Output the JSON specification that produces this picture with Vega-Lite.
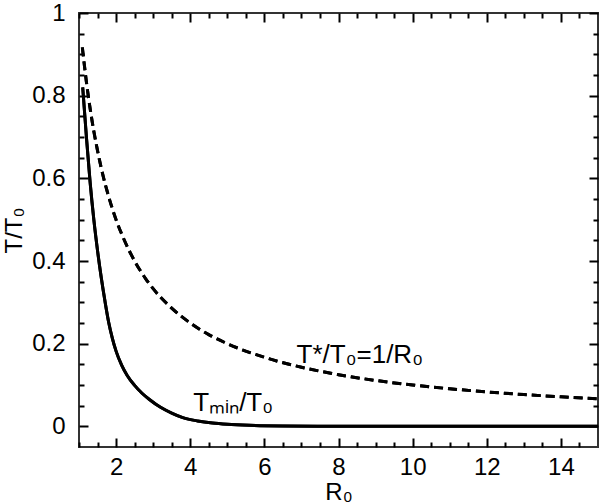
{
  "$schema": "https://vega.github.io/schema/vega-lite/v6.json",
  "width": 519,
  "height": 434,
  "autosize": {"type": "none"},
  "padding": {"left": 79, "top": 13, "right": 2, "bottom": 57},
  "background": "white",
  "config": {
    "view": {"stroke": "#333333", "strokeWidth": 2},
    "font": "Liberation Sans",
    "axis": {
      "domain": false,
      "grid": false,
      "labelFont": "Liberation Sans",
      "labelFontSize": 24,
      "labelColor": "black",
      "titleFont": "Liberation Sans",
      "titleFontSize": 24,
      "titleFontWeight": "normal",
      "titleColor": "black",
      "labelFlush": false,
      "labelOverlap": false
    }
  },
  "datasets": {
    "tmin": [
      {"R0": 1.1, "v": 0.82},
      {"R0": 1.2, "v": 0.7},
      {"R0": 1.3, "v": 0.59},
      {"R0": 1.4, "v": 0.5},
      {"R0": 1.5, "v": 0.425},
      {"R0": 1.6, "v": 0.36},
      {"R0": 1.7, "v": 0.303},
      {"R0": 1.8, "v": 0.252},
      {"R0": 1.9, "v": 0.213},
      {"R0": 2.0, "v": 0.182},
      {"R0": 2.15, "v": 0.148},
      {"R0": 2.3, "v": 0.123},
      {"R0": 2.5, "v": 0.099},
      {"R0": 2.7, "v": 0.08},
      {"R0": 2.9, "v": 0.065},
      {"R0": 3.2, "v": 0.046},
      {"R0": 3.5, "v": 0.032},
      {"R0": 3.8, "v": 0.021},
      {"R0": 4.2, "v": 0.013},
      {"R0": 4.6, "v": 0.008},
      {"R0": 5.0, "v": 0.005},
      {"R0": 5.6, "v": 0.0025},
      {"R0": 6.5, "v": 0.001},
      {"R0": 8, "v": 0.0003},
      {"R0": 10, "v": 0.0001},
      {"R0": 12, "v": 0},
      {"R0": 15, "v": 0}
    ],
    "tstar": [
      {"R0": 1.09, "v": 0.917},
      {"R0": 1.15, "v": 0.87},
      {"R0": 1.2, "v": 0.833},
      {"R0": 1.3, "v": 0.769},
      {"R0": 1.4, "v": 0.714},
      {"R0": 1.5, "v": 0.667},
      {"R0": 1.6, "v": 0.625},
      {"R0": 1.8, "v": 0.556},
      {"R0": 2.0, "v": 0.5},
      {"R0": 2.2, "v": 0.455},
      {"R0": 2.5, "v": 0.4},
      {"R0": 2.8, "v": 0.357},
      {"R0": 3.0, "v": 0.333},
      {"R0": 3.5, "v": 0.286},
      {"R0": 4, "v": 0.25},
      {"R0": 4.5, "v": 0.222},
      {"R0": 5, "v": 0.2},
      {"R0": 6, "v": 0.167},
      {"R0": 7, "v": 0.143},
      {"R0": 8, "v": 0.125},
      {"R0": 9, "v": 0.111},
      {"R0": 10, "v": 0.1},
      {"R0": 11, "v": 0.0909},
      {"R0": 12, "v": 0.0833},
      {"R0": 13, "v": 0.0769},
      {"R0": 14, "v": 0.0714},
      {"R0": 15, "v": 0.0667}
    ],
    "labels": [
      {"R0": 6.87, "v": 0.154, "text": "T*/T₀=1/R₀"},
      {"R0": 4.08, "v": 0.038, "text": "Tₘᵢₙ/T₀"}
    ]
  },
  "resolve": {"axis": {"x": "independent", "y": "independent"}},
  "layer": [
    {
      "data": {"name": "tmin"},
      "mark": {"type": "line", "color": "black", "strokeWidth": 3, "interpolate": "monotone", "clip": true},
      "encoding": {
        "x": {
          "field": "R0", "type": "quantitative",
          "scale": {"domain": [1, 15], "nice": false, "zero": false},
          "axis": {
            "orient": "bottom",
            "title": "R₀",
            "titleY": 52,
            "titleBaseline": "alphabetic",
            "values": [2, 4, 6, 8, 10, 12, 14],
            "format": "d",
            "ticks": false,
            "labelPadding": 8
          }
        },
        "y": {
          "field": "v", "type": "quantitative",
          "scale": {"domain": [-0.05, 1], "nice": false, "zero": false},
          "axis": {
            "orient": "left",
            "title": "T/T₀",
            "titlePadding": 5,
            "values": [0, 0.2, 0.4, 0.6, 0.8, 1],
            "format": "~g",
            "ticks": false,
            "labelPadding": 14
          }
        }
      }
    },
    {
      "data": {"name": "tstar"},
      "mark": {"type": "line", "color": "black", "strokeWidth": 3, "strokeDash": [9, 5], "interpolate": "monotone", "clip": true},
      "encoding": {
        "x": {
          "field": "R0", "type": "quantitative",
          "axis": {
            "orient": "bottom", "title": null, "labels": false, "ticks": true,
            "tickColor": "black", "tickWidth": 2, "tickSize": -9,
            "values": [2, 4, 6, 8, 10, 12, 14]
          }
        },
        "y": {
          "field": "v", "type": "quantitative",
          "axis": {
            "orient": "left", "title": null, "labels": false, "ticks": true,
            "tickColor": "black", "tickWidth": 2, "tickSize": -9,
            "values": [0, 0.2, 0.4, 0.6, 0.8, 1]
          }
        }
      }
    },
    {
      "data": {"name": "labels"},
      "mark": {"type": "text", "align": "left", "baseline": "alphabetic", "font": "Liberation Sans", "fontSize": 26, "color": "black"},
      "encoding": {
        "x": {
          "field": "R0", "type": "quantitative",
          "axis": {
            "orient": "top", "title": null, "labels": false, "ticks": true,
            "tickColor": "black", "tickWidth": 2, "tickSize": -9,
            "values": [2, 4, 6, 8, 10, 12, 14]
          }
        },
        "y": {
          "field": "v", "type": "quantitative",
          "axis": {
            "orient": "right", "title": null, "labels": false, "ticks": true,
            "tickColor": "black", "tickWidth": 2, "tickSize": -9,
            "values": [0, 0.2, 0.4, 0.6, 0.8, 1]
          }
        },
        "text": {"field": "text"}
      }
    },
    {
      "data": {"name": "tstar"},
      "mark": {"type": "line", "color": "black", "strokeWidth": 3, "strokeDash": [9, 5], "interpolate": "monotone", "clip": true},
      "encoding": {
        "x": {
          "field": "R0", "type": "quantitative",
          "axis": {
            "orient": "bottom", "title": null, "labels": false, "ticks": true,
            "tickColor": "black", "tickWidth": 2, "tickSize": -5,
            "values": [1, 1.5, 2.5, 3, 3.5, 4.5, 5, 5.5, 6.5, 7, 7.5, 8.5, 9, 9.5, 10.5, 11, 11.5, 12.5, 13, 13.5, 14.5]
          }
        },
        "y": {
          "field": "v", "type": "quantitative",
          "axis": {
            "orient": "left", "title": null, "labels": false, "ticks": true,
            "tickColor": "black", "tickWidth": 2, "tickSize": -5,
            "values": [0.05, 0.1, 0.15, 0.25, 0.3, 0.35, 0.45, 0.5, 0.55, 0.65, 0.7, 0.75, 0.85, 0.9, 0.95]
          }
        }
      }
    },
    {
      "data": {"name": "tmin"},
      "mark": {"type": "line", "color": "black", "strokeWidth": 3, "interpolate": "monotone", "clip": true},
      "encoding": {
        "x": {
          "field": "R0", "type": "quantitative",
          "axis": {
            "orient": "top", "title": null, "labels": false, "ticks": true,
            "tickColor": "black", "tickWidth": 2, "tickSize": -5,
            "values": [1, 1.5, 2.5, 3, 3.5, 4.5, 5, 5.5, 6.5, 7, 7.5, 8.5, 9, 9.5, 10.5, 11, 11.5, 12.5, 13, 13.5, 14.5]
          }
        },
        "y": {
          "field": "v", "type": "quantitative",
          "axis": {
            "orient": "right", "title": null, "labels": false, "ticks": true,
            "tickColor": "black", "tickWidth": 2, "tickSize": -5,
            "values": [0.05, 0.1, 0.15, 0.25, 0.3, 0.35, 0.45, 0.5, 0.55, 0.65, 0.7, 0.75, 0.85, 0.9, 0.95]
          }
        }
      }
    }
  ]
}
